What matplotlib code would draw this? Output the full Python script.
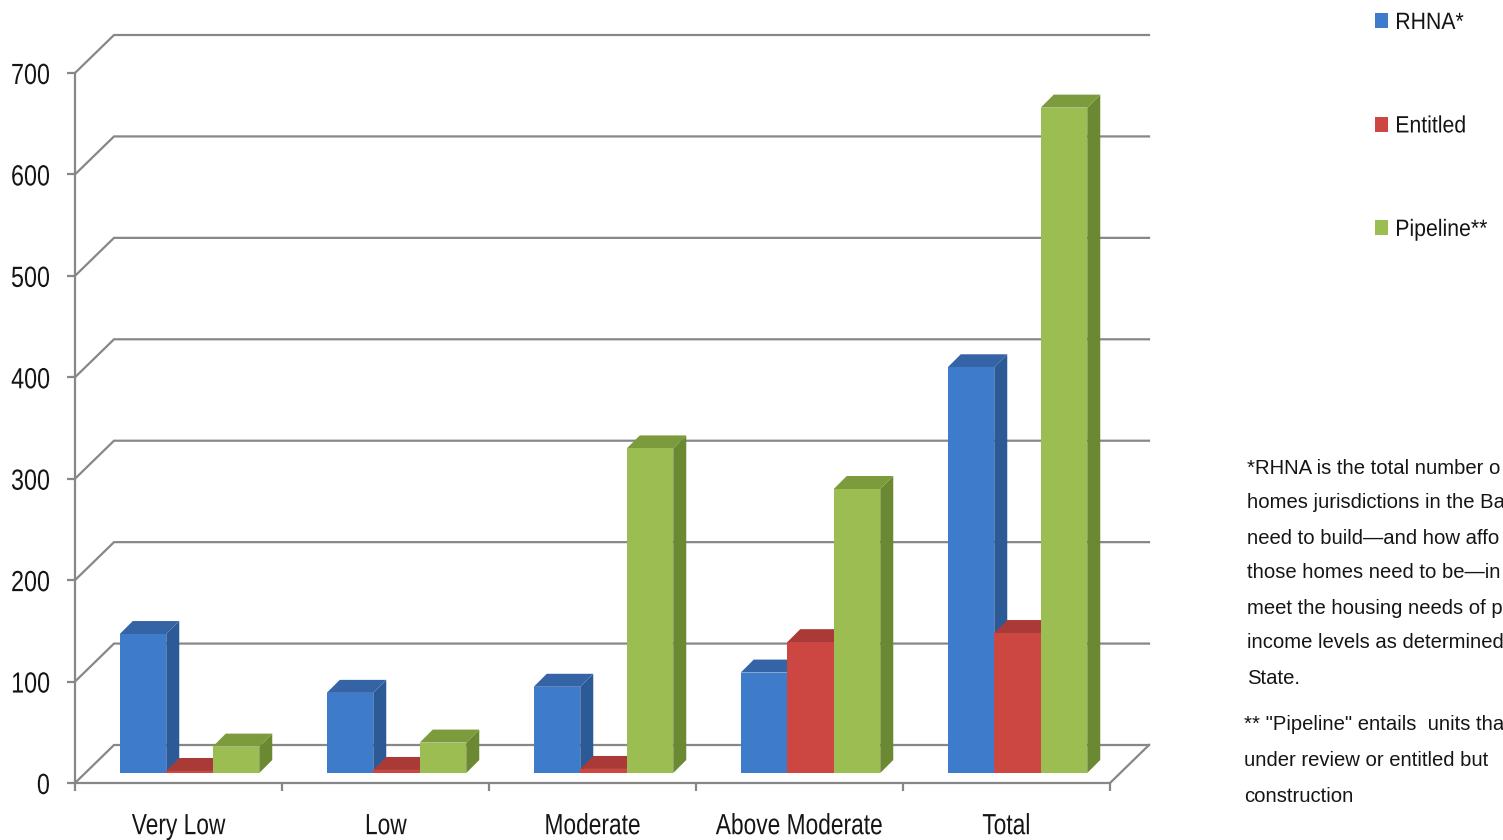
import matplotlib
matplotlib.use("Agg")
import matplotlib.pyplot as plt
from matplotlib.patches import Polygon, Patch
from matplotlib.patheffects import AbstractPathEffect
from matplotlib.transforms import Affine2D

plt.rcParams['font.family'] = ['Liberation Sans', 'DejaVu Sans']

# ---- data -------------------------------------------------------------
categories = ["Very Low", "Low", "Moderate", "Above Moderate", "Total"]
series_names = ["RHNA*", "Entitled", "Pipeline**"]
rhna = [137, 79, 85, 99, 400]
entitled = [2, 3, 4, 129, 138]
pipeline = [26, 30, 320, 280, 656]
y_ticks = [0, 100, 200, 300, 400, 500, 600, 700]

footnote_1 = [
    "*RHNA is the total number o",
    "homes jurisdictions in the Ba",
    "need to build\u2014and how affo",
    "those homes need to be\u2014in",
    "meet the housing needs of p",
    "income levels as determined",
    "State.",
]
footnote_2 = [
    "** \"Pipeline\" entails  units tha",
    "under review or entitled but",
    "construction",
]

# ---- styling ------------------------------------------------------------
front_colors = ["#3f7bcb", "#cc4642", "#9bbd52"]
side_colors = ["#2c5a96", "#983230", "#6b8832"]
top_colors = ["#3464a6", "#a93a37", "#7b9b3c"]
grid_color = "#878787"
text_color = "#151515"


class HSqueeze(AbstractPathEffect):
    """Draw text glyphs narrowed horizontally around a chosen anchor."""

    def __init__(self, sx=0.8, anchor="center"):
        super().__init__()
        self.sx = sx
        self.anchor = anchor

    def draw_path(self, renderer, gc, tpath, affine, rgbFace=None):
        ext = tpath.get_extents()
        if self.anchor == "right":
            c = ext.x1
        elif self.anchor == "left":
            c = ext.x0
        else:
            c = 0.5 * (ext.x0 + ext.x1)
        squeeze = Affine2D().translate(-c, 0).scale(self.sx, 1).translate(c, 0)
        renderer.draw_path(gc, tpath, squeeze + affine, rgbFace)


W, H = 1503, 840
fig = plt.figure(figsize=(W / 100, H / 100), dpi=100)
ax = fig.add_axes([75 / W, 57 / H, 1035 / W, 710 / H])
ax.set_xlim(-0.5, len(categories) - 0.5)
ax.set_ylim(0, 700)

px_x = 1035 / len(categories)   # pixels per category
px_y = 710 / 700                # pixels per unit

# oblique depth of the floor / back wall, and of the bars
wall_dx, wall_dy = 39 / px_x, 38 / px_y
bar_dx0, bar_dy0 = 11 / px_x, 10 / px_y
bar_ddx, bar_ddy = 13 / px_x, 13 / px_y
bar_w = 46.5 / px_x

x0, x1 = -0.5, len(categories) - 0.5

# side wall + back wall gridlines
for v in y_ticks:
    ax.plot([x0, x0 + wall_dx, x1 + wall_dx], [v, v + wall_dy, v + wall_dy],
            color=grid_color, lw=1.6, clip_on=False, zorder=1,
            solid_joinstyle="miter")
# right edge of the floor
ax.plot([x1, x1 + wall_dx], [0, wall_dy], color=grid_color, lw=1.6,
        clip_on=False, zorder=1)

# ---- 3-D columns ----------------------------------------------------------
all_series = [rhna, entitled, pipeline]
for k, vals in enumerate(all_series):
    xs = [i + (k - 1) * bar_w + bar_dx0 for i in range(len(categories))]
    bars = ax.bar(xs, vals, width=bar_w, bottom=bar_dy0,
                  color=front_colors[k], linewidth=0, clip_on=False)
    for i, (b, v) in enumerate(zip(bars, vals)):
        base = 3 + (i * 3 + k) * 0.01
        b.set_zorder(base + 0.002)
        xl = xs[i] - bar_w / 2
        xr = xs[i] + bar_w / 2
        yb = bar_dy0
        yt = bar_dy0 + v
        side = Polygon([(xr, yb), (xr + bar_ddx, yb + bar_ddy),
                        (xr + bar_ddx, yt + bar_ddy), (xr, yt)],
                       closed=True, facecolor=side_colors[k], edgecolor="none",
                       zorder=base, clip_on=False)
        top = Polygon([(xl, yt), (xr, yt), (xr + bar_ddx, yt + bar_ddy),
                       (xl + bar_ddx, yt + bar_ddy)],
                      closed=True, facecolor=top_colors[k], edgecolor="none",
                      zorder=base + 0.001, clip_on=False)
        ax.add_patch(side)
        ax.add_patch(top)

# ---- axes -----------------------------------------------------------------
for s in ["top", "right"]:
    ax.spines[s].set_visible(False)
for s in ["left", "bottom"]:
    ax.spines[s].set_color(grid_color)
    ax.spines[s].set_linewidth(1.6)

ax.set_yticks(y_ticks)
ax.set_yticklabels([str(t) for t in y_ticks])
ax.tick_params(axis="y", direction="out", length=6, width=1.6,
               color=grid_color, pad=12, labelsize=21, labelcolor=text_color)

ax.set_xticks([i - 0.5 for i in range(len(categories) + 1)])
ax.set_xticklabels([])
ax.tick_params(axis="x", which="major", direction="out", length=6, width=1.6,
               color=grid_color)
ax.set_xticks(range(len(categories)), minor=True)
ax.set_xticklabels(categories, minor=True)
ax.tick_params(axis="x", which="minor", length=0, pad=21, labelsize=21,
               labelcolor=text_color)

for lbl in ax.get_yticklabels():
    lbl.set_path_effects([HSqueeze(0.8, "right")])
for lbl in ax.get_xticklabels(minor=True):
    lbl.set_path_effects([HSqueeze(0.78, "center")])

# ---- legend -----------------------------------------------------------------
handles = [Patch(facecolor=c, edgecolor="none") for c in front_colors]
leg = fig.legend(handles, series_names, loc="upper left",
                 bbox_to_anchor=(1375 / W, 1 - 12 / H), frameon=False,
                 fontsize=17, handlelength=0.55, handleheight=0.6,
                 handletextpad=0.3, labelspacing=3.45, borderpad=0,
                 borderaxespad=0)
for t in leg.get_texts():
    t.set_color(text_color)
    t.set_path_effects([HSqueeze(0.9, "left")])

# ---- footnotes ----------------------------------------------------------------
for j, line in enumerate(footnote_1):
    fig.text(1247 / W, 1 - (468 + 35 * j) / H, line, fontsize=14.6,
             va="center", ha="left", color=text_color)
for j, line in enumerate(footnote_2):
    fig.text(1244 / W, 1 - (725 + 35.5 * j) / H, line, fontsize=14.6,
             va="center", ha="left", color=text_color)

fig.savefig("out.png", dpi=100)
